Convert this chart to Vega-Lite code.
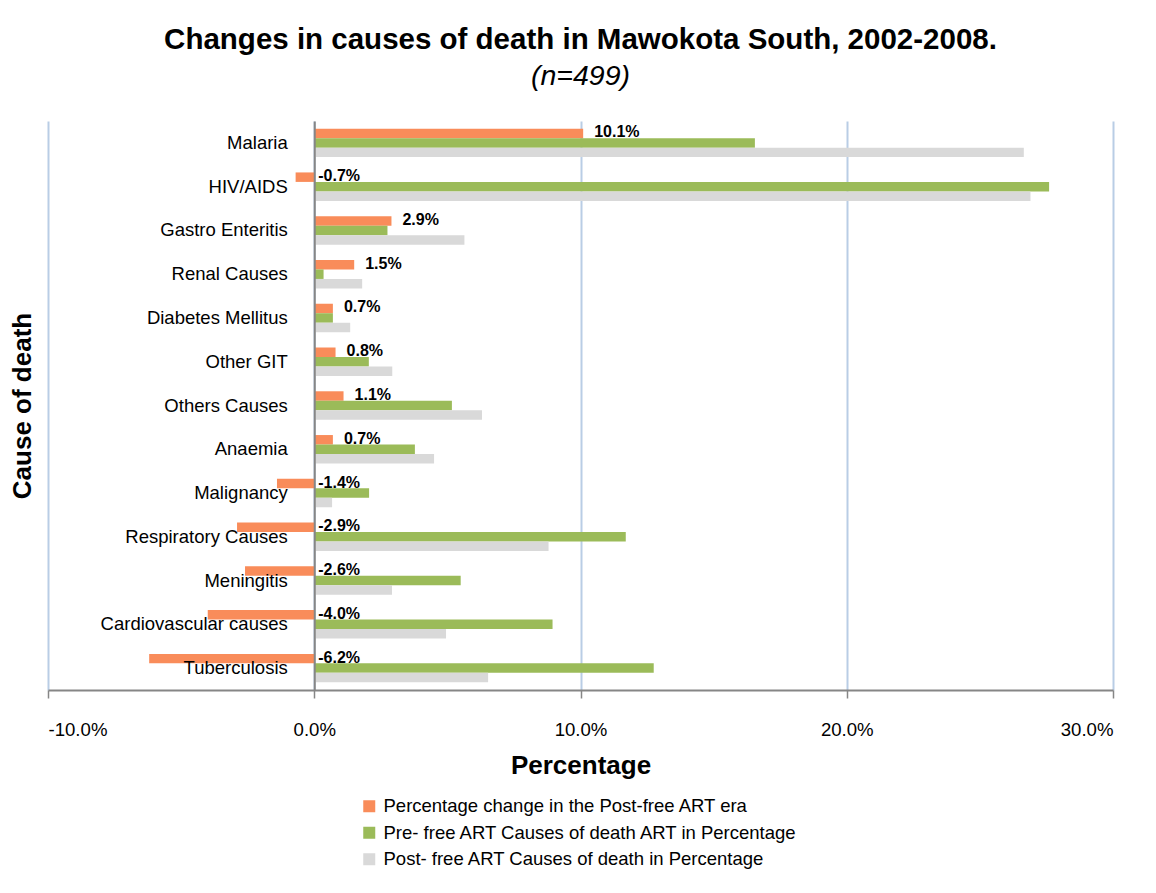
{
  "$schema": "https://vega.github.io/schema/vega-lite/v6.json",
  "width": 1065,
  "height": 569,
  "autosize": {"type": "none"},
  "padding": {"left": 48, "top": 121, "right": 43, "bottom": 203},
  "background": "white",
  "config": {
    "font": "Liberation Sans",
    "view": {"stroke": null},
    "locale": {
      "number": {"decimal": ".", "thousands": ",", "grouping": [3], "currency": ["$", ""], "minus": "-", "percent": "%"}
    }
  },
  "title": {
    "text": "Changes in causes of death in Mawokota South, 2002-2008.",
    "subtitle": "(n=499)",
    "anchor": "middle",
    "fontSize": 29.5,
    "fontWeight": "bold",
    "color": "black",
    "subtitleFontSize": 28.5,
    "subtitleFontStyle": "italic",
    "subtitleColor": "black",
    "subtitlePadding": 6,
    "offset": 30
  },
  "data": {
    "values": [
      {"cause": "Malaria", "series": "Percentage change in the Post-free ART era", "value": 0.101},
      {"cause": "Malaria", "series": "Pre- free ART  Causes of death  ART in Percentage", "value": 0.1655},
      {"cause": "Malaria", "series": "Post- free ART Causes of death in Percentage", "value": 0.2665},
      {"cause": "HIV/AIDS", "series": "Percentage change in the Post-free ART era", "value": -0.007},
      {"cause": "HIV/AIDS", "series": "Pre- free ART  Causes of death  ART in Percentage", "value": 0.276},
      {"cause": "HIV/AIDS", "series": "Post- free ART Causes of death in Percentage", "value": 0.269},
      {"cause": "Gastro Enteritis", "series": "Percentage change in the Post-free ART era", "value": 0.029},
      {"cause": "Gastro Enteritis", "series": "Pre- free ART  Causes of death  ART in Percentage", "value": 0.0275},
      {"cause": "Gastro Enteritis", "series": "Post- free ART Causes of death in Percentage", "value": 0.0564},
      {"cause": "Renal Causes", "series": "Percentage change in the Post-free ART era", "value": 0.015},
      {"cause": "Renal Causes", "series": "Pre- free ART  Causes of death  ART in Percentage", "value": 0.0035},
      {"cause": "Renal Causes", "series": "Post- free ART Causes of death in Percentage", "value": 0.018},
      {"cause": "Diabetes Mellitus", "series": "Percentage change in the Post-free ART era", "value": 0.007},
      {"cause": "Diabetes Mellitus", "series": "Pre- free ART  Causes of death  ART in Percentage", "value": 0.007},
      {"cause": "Diabetes Mellitus", "series": "Post- free ART Causes of death in Percentage", "value": 0.0135},
      {"cause": "Other GIT", "series": "Percentage change in the Post-free ART era", "value": 0.008},
      {"cause": "Other GIT", "series": "Pre- free ART  Causes of death  ART in Percentage", "value": 0.0205},
      {"cause": "Other GIT", "series": "Post- free ART Causes of death in Percentage", "value": 0.0293},
      {"cause": "Others Causes", "series": "Percentage change in the Post-free ART era", "value": 0.011},
      {"cause": "Others Causes", "series": "Pre- free ART  Causes of death  ART in Percentage", "value": 0.0517},
      {"cause": "Others Causes", "series": "Post- free ART Causes of death in Percentage", "value": 0.063},
      {"cause": "Anaemia", "series": "Percentage change in the Post-free ART era", "value": 0.007},
      {"cause": "Anaemia", "series": "Pre- free ART  Causes of death  ART in Percentage", "value": 0.0378},
      {"cause": "Anaemia", "series": "Post- free ART Causes of death in Percentage", "value": 0.045},
      {"cause": "Malignancy", "series": "Percentage change in the Post-free ART era", "value": -0.014},
      {"cause": "Malignancy", "series": "Pre- free ART  Causes of death  ART in Percentage", "value": 0.0206},
      {"cause": "Malignancy", "series": "Post- free ART Causes of death in Percentage", "value": 0.0067},
      {"cause": "Respiratory Causes", "series": "Percentage change in the Post-free ART era", "value": -0.029},
      {"cause": "Respiratory Causes", "series": "Pre- free ART  Causes of death  ART in Percentage", "value": 0.117},
      {"cause": "Respiratory Causes", "series": "Post- free ART Causes of death in Percentage", "value": 0.088},
      {"cause": "Meningitis", "series": "Percentage change in the Post-free ART era", "value": -0.026},
      {"cause": "Meningitis", "series": "Pre- free ART  Causes of death  ART in Percentage", "value": 0.055},
      {"cause": "Meningitis", "series": "Post- free ART Causes of death in Percentage", "value": 0.0292},
      {"cause": "Cardiovascular causes", "series": "Percentage change in the Post-free ART era", "value": -0.04},
      {"cause": "Cardiovascular causes", "series": "Pre- free ART  Causes of death  ART in Percentage", "value": 0.0895},
      {"cause": "Cardiovascular causes", "series": "Post- free ART Causes of death in Percentage", "value": 0.0495},
      {"cause": "Tuberculosis", "series": "Percentage change in the Post-free ART era", "value": -0.062},
      {"cause": "Tuberculosis", "series": "Pre- free ART  Causes of death  ART in Percentage", "value": 0.1275},
      {"cause": "Tuberculosis", "series": "Post- free ART Causes of death in Percentage", "value": 0.0653}
    ]
  },
  "encoding": {
    "y": {
      "field": "cause",
      "type": "nominal",
      "sort": null,
      "scale": {"paddingInner": 0.35, "paddingOuter": 0.175},
      "axis": {
        "title": "Cause of death",
        "offset": -266.25,
        "zindex": 1,
        "ticks": false,
        "domainColor": "#868686",
        "domainWidth": 2,
        "labelFontSize": 18.5,
        "labelColor": "black",
        "labelPadding": 27,
        "labelLimit": 400,
        "titleFontSize": 26,
        "titleFontWeight": "bold",
        "titleColor": "black",
        "titleX": -292,
        "titleY": 284.5,
        "titleAngle": -90,
        "titleAlign": "center",
        "titleBaseline": "middle"
      }
    },
    "yOffset": {
      "field": "series",
      "type": "nominal",
      "scale": {
        "domain": [
          "Percentage change in the Post-free ART era",
          "Pre- free ART  Causes of death  ART in Percentage",
          "Post- free ART Causes of death in Percentage"
        ],
        "paddingInner": 0,
        "paddingOuter": 0
      }
    },
    "x": {
      "field": "value",
      "type": "quantitative",
      "scale": {"domain": [-0.1, 0.3], "nice": false, "zero": false},
      "axis": {
        "title": "Percentage",
        "values": [-0.1, 0, 0.1, 0.2, 0.3],
        "format": ".1%",
        "grid": true,
        "gridColor": "#B9CDE5",
        "gridWidth": 2,
        "domainColor": "#868686",
        "domainWidth": 2,
        "tickColor": "#868686",
        "tickWidth": 1.5,
        "tickSize": 8,
        "labelFontSize": 18.6,
        "labelColor": "black",
        "labelPadding": 22,
        "titleFontSize": 26,
        "titleFontWeight": "bold",
        "titleColor": "black",
        "titlePadding": 14
      }
    }
  },
  "layer": [
    {
      "mark": {"type": "bar"},
      "encoding": {
        "color": {
          "field": "series",
          "type": "nominal",
          "scale": {
            "domain": [
              "Percentage change in the Post-free ART era",
              "Pre- free ART  Causes of death  ART in Percentage",
              "Post- free ART Causes of death in Percentage"
            ],
            "range": ["#F98C5A", "#9BBB59", "#D9D9D9"]
          },
          "legend": {
            "title": null,
            "orient": "none",
            "legendX": 312,
            "legendY": 676,
            "symbolType": "square",
            "symbolSize": 144,
            "symbolStrokeWidth": 0,
            "labelFontSize": 18.5,
            "labelColor": "black",
            "labelOffset": 5,
            "labelLimit": 600,
            "rowPadding": 7.5
          }
        }
      }
    },
    {
      "transform": [{"filter": "datum.series === 'Percentage change in the Post-free ART era' && datum.value >= 0"}],
      "mark": {"type": "text", "align": "left", "baseline": "middle", "dx": 11, "dy": -1, "fontSize": 16, "fontWeight": "bold", "color": "black"},
      "encoding": {
        "text": {"field": "value", "type": "quantitative", "format": ".1%"}
      }
    },
    {
      "transform": [{"filter": "datum.series === 'Percentage change in the Post-free ART era' && datum.value < 0"}],
      "mark": {"type": "text", "align": "left", "baseline": "middle", "dx": 4, "dy": -1, "fontSize": 16, "fontWeight": "bold", "color": "black"},
      "encoding": {
        "x": {"datum": 0, "type": "quantitative"},
        "text": {"field": "value", "type": "quantitative", "format": ".1%"}
      }
    }
  ]
}
